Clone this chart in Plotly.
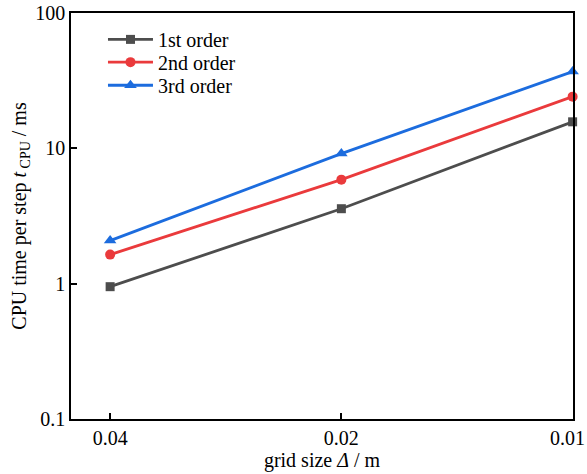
import plotly.graph_objects as go

grid = [0.04, 0.02, 0.01]
first = [0.95, 3.58, 15.7]
second = [1.64, 5.87, 24.1]
third = [2.08, 9.14, 36.9]
names = ["1st order", "2nd order", "3rd order"]
colors = ["#4d4d4d", "#ea3a3c", "#1c6cde"]
symbols = ["square", "circle", "triangle-up"]
msizes = [9, 10, 11]
x_ticktext = ["0.04", "0.02", "0.01\u00a0\u00a0"]
y_tickvals = [0.1, 1, 10, 100]
y_ticktext = ["0.1", "1", "10", "100"]
legend_rows = [0.935, 0.879, 0.822]

FAM = "Liberation Serif"
SZ = 20

fig = go.Figure()
legend_keys = ["legend", "legend2", "legend3"]
for ys, n, c, s, ms, lk in zip([first, second, third], names, colors, symbols, msizes, legend_keys):
    fig.add_trace(go.Scatter(x=grid, y=ys, name=n, mode="lines+markers",
                             line=dict(color=c, width=2.8),
                             marker=dict(symbol=s, size=ms, color=c),
                             cliponaxis=False, legend=lk))

font = dict(family=FAM, size=SZ, color="black")
layout_legends = {}
for lk, yy in zip(legend_keys, legend_rows):
    layout_legends[lk] = dict(x=0.0637, y=yy, xanchor="left", yanchor="middle",
                              bgcolor="rgba(0,0,0,0)", borderwidth=0, itemwidth=45,
                              font=dict(family=FAM, size=SZ, color="black"))
fig.update_layout(
    width=587, height=474,
    margin=dict(l=71, r=14, t=13, b=55),
    paper_bgcolor="white", plot_bgcolor="white",
    font=font,
    showlegend=True,
    **layout_legends,
)
fig.update_xaxes(type="log", range=[-1.347, -2.0005], tickvals=grid,
                 ticktext=x_ticktext,
                 tickfont=dict(family=FAM, size=SZ, color="black"),
                 ticklabeloverflow="allow", automargin=False,
                 ticks="inside", ticklen=6, tickwidth=1.5, tickcolor="black",
                 showline=True, linecolor="black", linewidth=1.5, mirror=True,
                 showgrid=False, zeroline=False,
                 title=dict(text="grid size <i>Δ</i> / m", standoff=5,
                            font=dict(family=FAM, size=SZ, color="black")))
fig.update_yaxes(type="log", range=[-1, 2], tickvals=y_tickvals,
                 ticktext=y_ticktext,
                 tickfont=dict(family=FAM, size=SZ, color="black"),
                 ticklabeloverflow="allow", automargin=False,
                 ticks="inside", ticklen=6, tickwidth=1.5, tickcolor="black",
                 showline=True, linecolor="black", linewidth=1.5, mirror=True,
                 showgrid=False, zeroline=False,
                 title=dict(text="CPU time per step <i>t</i><sub> CPU</sub> / ms", standoff=3,
                            font=dict(family=FAM, size=SZ, color="black")))
fig.write_html("out.html")
